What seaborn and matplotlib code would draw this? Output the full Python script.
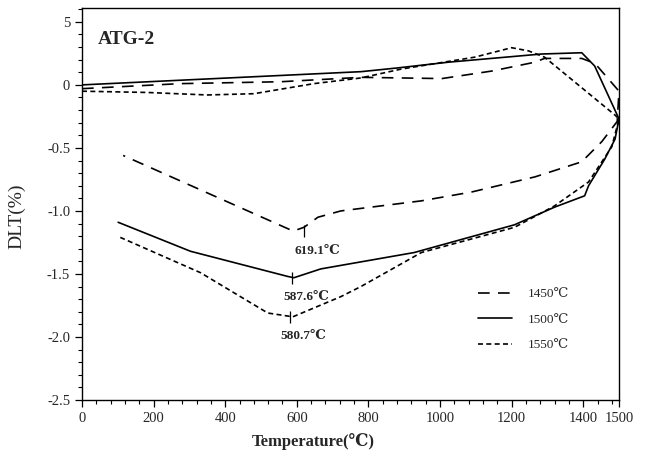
import numpy as np
import pandas as pd
import matplotlib
matplotlib.use("Agg")
import matplotlib.pyplot as plt
from matplotlib.lines import Line2D
from matplotlib.ticker import MultipleLocator, FixedLocator
import seaborn as sns

# heating then cooling, in drawing order
t_1450 = [0, 275, 555, 780, 1005, 1145, 1265, 1292, 1396, 1433, 1500, 1495, 1452,
          1396, 1265, 1088, 948, 807, 723, 659, 620, 590, 115]
v_1450 = [-0.03, 0.01, 0.025, 0.06, 0.05, 0.11, 0.18, 0.21, 0.21, 0.17, -0.05, -0.29, -0.45,
          -0.61, -0.73, -0.85, -0.92, -0.97, -1.0, -1.05, -1.13, -1.16, -0.56]

t_1500 = [0, 780, 883, 1023, 1284, 1396, 1432, 1500, 1489, 1460, 1415, 1404, 1320,
          1208, 928, 667, 592, 575, 303, 101]
v_1500 = [0.0, 0.105, 0.135, 0.18, 0.245, 0.255, 0.15, -0.27, -0.43, -0.59, -0.80, -0.88, -0.97,
          -1.11, -1.33, -1.46, -1.53, -1.52, -1.32, -1.09]

t_1550 = [0, 181, 350, 480, 648, 779, 891, 1097, 1200, 1247, 1292, 1489, 1500, 1480,
          1415, 1320, 1208, 948, 779, 723, 589, 519, 331, 107]
v_1550 = [-0.05, -0.06, -0.08, -0.07, 0.01, 0.055, 0.125, 0.22, 0.295, 0.27, 0.22, -0.24, -0.27, -0.49,
          -0.77, -0.96, -1.13, -1.33, -1.60, -1.68, -1.84, -1.81, -1.49, -1.21]

series_names = ["1450\u2103", "1500\u2103", "1550\u2103"]

# minima marked on the cooling curves
min_t = [619.1, 587.6, 580.7]
min_v = [-1.16, -1.53, -1.84]

yticks = [0.5, 0, -0.5, -1.0, -1.5, -2.0, -2.5]
ytick_labels = ["5", "0", "-0.5", "-1.0", "-1.5", "-2.0", "-2.5"]
xticks = [0, 200, 400, 600, 800, 1000, 1200, 1400, 1500]

sns.set_style("ticks")
plt.rcParams["font.family"] = ["Liberation Serif", "DejaVu Serif"]

fig = plt.figure(figsize=(6.48, 4.59), dpi=100)
ax = fig.add_axes([82 / 648, 1 - 400 / 459, 537 / 648, 392 / 459])

styles = [(0, (7, 5)), "-", (0, (3, 2))]
curves = [(t_1450, v_1450), (t_1500, v_1500), (t_1550, v_1550)]
for (t, v), ls in zip(curves, styles):
    df = pd.DataFrame({"T": t, "DLT": v})
    sns.lineplot(data=df, x="T", y="DLT", sort=False, estimator=None,
                 color="black", lw=1.2, linestyle=ls, ax=ax)

for t, v in zip(min_t, min_v):
    ax.plot([t], [v], marker="|", color="black", ms=8, mew=0.9)
    ax.annotate(f"{t}\u2103", xy=(t, v), xytext=(10, -14), textcoords="offset points",
                ha="center", va="center", fontsize=9.5, fontweight="bold")

ax.text(0.03, 0.92, "ATG-2", transform=ax.transAxes, fontsize=14,
        fontweight="bold", ha="left", va="center")

ax.set_xlim(0, 1500)
ax.set_ylim(-2.5, 0.61)
ax.xaxis.set_major_locator(FixedLocator(xticks))
ax.xaxis.set_minor_locator(MultipleLocator(40))
ax.set_yticks(yticks)
ax.set_yticklabels(ytick_labels)
ax.yaxis.set_minor_locator(MultipleLocator(0.1))
ax.tick_params(axis="both", which="major", length=5, width=0.9, labelsize=10.5, color="black")
ax.tick_params(axis="both", which="minor", length=3, width=0.8, color="black")
for s in ax.spines.values():
    s.set_visible(True)
    s.set_linewidth(1.0)
    s.set_color("black")

ax.set_xlabel("Temperature(\u2103)", fontsize=12, fontweight="bold", labelpad=6)
ax.xaxis.set_label_coords(0.43, -0.085)
ax.set_ylabel("DLT(%)", fontsize=14, labelpad=8)
ax.yaxis.set_label_coords(-0.105, 0.47)

handles = [Line2D([], [], color="black", lw=1.2, linestyle=ls) for ls in styles]
ax.legend(handles, series_names, loc="center left", bbox_to_anchor=(0.715, 0.205),
          frameon=False, fontsize=9.5, handlelength=2.6, labelspacing=1.0, handletextpad=1.2)

fig.savefig("out.png", dpi=100)
